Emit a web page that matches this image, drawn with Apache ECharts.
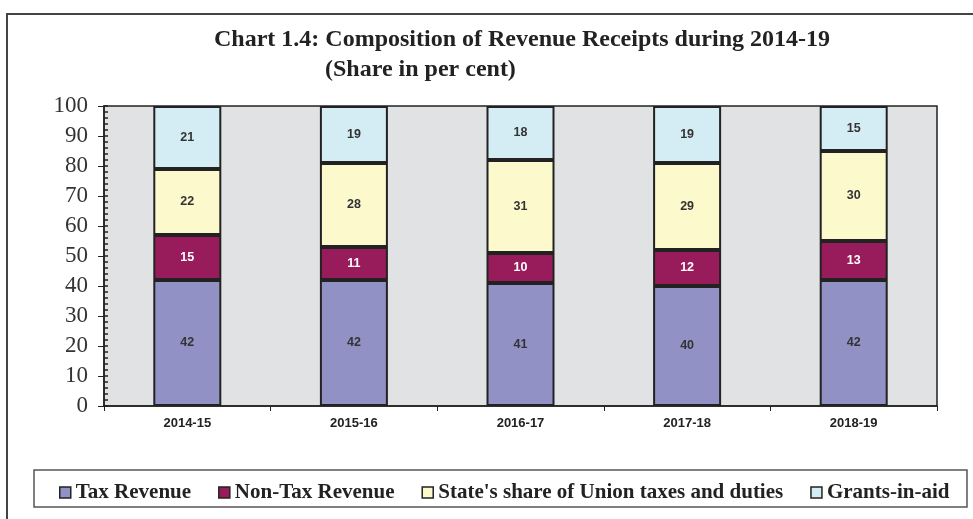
<!DOCTYPE html>
<html>
<head>
<meta charset="utf-8">
<script src="https://cdn.jsdelivr.net/npm/echarts@6/dist/echarts.min.js"></script>
<style>
  html, body { margin: 0; padding: 0; background: #fff; }
  #chart { width: 973px; height: 519px; }
</style>
</head>
<body>
<div id="chart"></div>
<script>
// categories and shares (per cent)
var years = ["2014-15", "2015-16", "2016-17", "2017-18", "2018-19"];
var taxRevenue = [42, 42, 41, 40, 42];
var nonTaxRevenue = [15, 11, 10, 12, 13];
var statesShare = [22, 28, 31, 29, 30];
var grantsInAid = [21, 19, 18, 19, 15];

var myChart = echarts.init(document.getElementById("chart"));

var serif = "Liberation Serif, Times New Roman, serif";
var sans = "Liberation Sans, Arial, sans-serif";

var labelStyle = {
  show: true,
  position: "inside",
  fontFamily: sans,
  fontWeight: "bold",
  fontSize: 12.5,
  color: "#333"
};

function bar(name, data, color, labelColor) {
  return {
    name: name,
    type: "bar",
    stack: "total",
    barWidth: 68,
    data: data,
    itemStyle: { color: color, borderColor: "#222", borderWidth: 2 },
    label: Object.assign({}, labelStyle, labelColor ? { color: labelColor } : {})
  };
}

var option = {
  animation: false,
  backgroundColor: "#fff",
  grid: {
    left: 104,
    right: 36,
    top: 106,
    bottom: 113,
    show: true,
    backgroundColor: "#e1e2e4",
    borderColor: "#222",
    borderWidth: 1.5
  },
  graphic: [
    {
      // outer frame
      type: "rect",
      shape: { x: 7, y: 14, width: 980, height: 520 },
      style: { fill: "none", stroke: "#444", lineWidth: 2 }
    },
    {
      // legend box
      type: "rect",
      shape: { x: 34, y: 470, width: 933, height: 37 },
      style: { fill: "#fff", stroke: "#555", lineWidth: 1.5 }
    },
    {
      type: "text",
      left: 214,
      top: 28,
      style: {
        text: "Chart 1.4: Composition of Revenue Receipts during 2014-19",
        font: "bold 24px 'Liberation Serif', 'Times New Roman', serif",
        fill: "#222"
      }
    },
    {
      type: "text",
      left: 325,
      top: 58,
      style: {
        text: "(Share in per cent)",
        font: "bold 24px 'Liberation Serif', 'Times New Roman', serif",
        fill: "#222"
      }
    }
  ],
  legend: {
    left: 54,
    top: 477,
    icon: "rect",
    itemWidth: 11,
    itemHeight: 11,
    itemGap: 27,
    itemStyle: { borderWidth: 1.5 },
    textStyle: {
      fontFamily: serif,
      fontWeight: "bold",
      fontSize: 21,
      color: "#222"
    }
  },
  xAxis: {
    type: "category",
    data: years,
    axisLine: { lineStyle: { color: "#222", width: 1.5 } },
    axisTick: { show: true, length: 5, lineStyle: { color: "#222" } },
    axisLabel: {
      fontFamily: sans,
      fontWeight: "bold",
      fontSize: 13,
      color: "#222",
      margin: 11
    }
  },
  yAxis: [
    {
      type: "value",
      min: 0,
      max: 100,
      interval: 10,
      axisLine: { show: true, lineStyle: { color: "#222", width: 1.5 } },
      axisTick: { show: true, length: 6, lineStyle: { color: "#222" } },
      splitLine: { show: false },
      axisLabel: {
        fontFamily: serif,
        fontSize: 23,
        color: "#333",
        margin: 16,
        padding: [4, 0, 0, 0]
      }
    },
    {
      // ruler-like minor ticks inside the axis
      type: "value",
      position: "left",
      min: 0,
      max: 100,
      interval: 2,
      axisLine: { show: false },
      axisTick: { show: true, inside: true, length: 4, lineStyle: { color: "#222", width: 1.5 } },
      axisLabel: { show: false },
      splitLine: { show: false }
    }
  ],
  series: [
    bar("Tax Revenue", taxRevenue, "#9191c6"),
    bar("Non-Tax Revenue", nonTaxRevenue, "#981c5b", "#fff"),
    bar("State's share of Union taxes and duties", statesShare, "#fcf9cd"),
    bar("Grants-in-aid", grantsInAid, "#d4ecf3")
  ]
};

window.onresize = myChart.resize;
myChart.setOption(option);
</script>
</body>
</html>
